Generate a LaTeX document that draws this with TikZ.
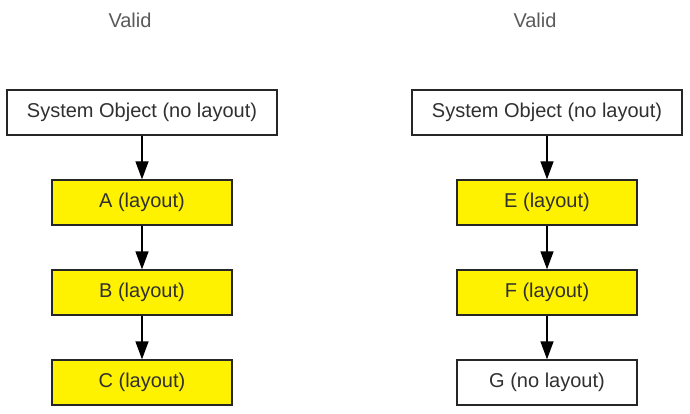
\documentclass[tikz,border=0pt]{standalone}
\usepackage{fontspec}
\setmainfont{Liberation Sans}
\usetikzlibrary{arrows.meta}
\definecolor{txt}{HTML}{303030}
\tikzset{
  box/.style={draw=black!85, line width=1.3pt, minimum width=#1, minimum height=45pt, inner sep=0pt, font=\fontsize{20pt}{22pt}\selectfont, text=txt},
  plainbox/.style={box=#1, fill=white},
  layoutbox/.style={box=#1, fill=yellow},
  title/.style={font=\fontsize{20pt}{22pt}\selectfont, text=txt!80},
  conn/.style={draw=black, line width=1.3pt, -{Triangle[length=18pt,width=13pt]}}
}
\begin{document}
\begin{tikzpicture}[x=1pt,y=-1pt]
\useasboundingbox (0,0) rectangle (690,414);
% left column
\node[title] (v1) at (130,20) {Valid};
\node[plainbox=270pt] (s1) at (142,112.5) {System Object (no layout)};
\node[layoutbox=180pt] (a) at (142,202.5) {A (layout)};
\node[layoutbox=180pt] (b) at (142,292.5) {B (layout)};
\node[layoutbox=180pt] (c) at (142,382.5) {C (layout)};
\draw[conn] (s1) -- (a);
\draw[conn] (a) -- (b);
\draw[conn] (b) -- (c);
% right column
\node[title] (v2) at (535,20) {Valid};
\node[plainbox=270pt] (s2) at (547,112.5) {System Object (no layout)};
\node[layoutbox=180pt] (e) at (547,202.5) {E (layout)};
\node[layoutbox=180pt] (f) at (547,292.5) {F (layout)};
\node[plainbox=180pt] (g) at (547,382.5) {G (no layout)};
\draw[conn] (s2) -- (e);
\draw[conn] (e) -- (f);
\draw[conn] (f) -- (g);
\end{tikzpicture}
\end{document}
